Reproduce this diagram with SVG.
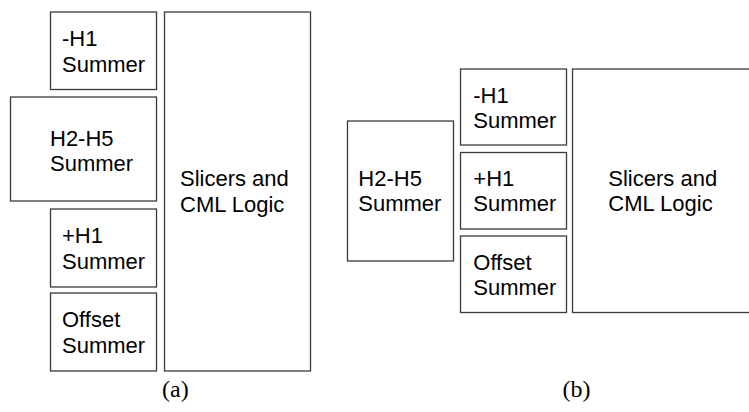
<svg xmlns="http://www.w3.org/2000/svg" width="749" height="412" viewBox="0 0 749 412">
<style>
rect{fill:#fff;stroke:#3a3a3a;stroke-width:1.3}
text{font-family:"Liberation Sans",Arial,sans-serif;font-size:22px;fill:#000}
.cap{font-family:"Liberation Serif","Times New Roman",serif;font-size:24px}
</style>
<rect x="0" y="0" width="749" height="412" style="stroke:none"/>
<g id="a-minusH1"><rect x="50.5" y="12" width="106" height="77.5"/><text x="62" y="45.7">-H1</text><text x="62" y="71.7">Summer</text></g>
<g id="a-H2H5"><rect x="10.5" y="97" width="146" height="104"/><text x="50" y="145.7">H2-H5</text><text x="50" y="170.7">Summer</text></g>
<g id="a-plusH1"><rect x="50.5" y="209" width="106" height="78"/><text x="62" y="242.7">+H1</text><text x="62" y="269">Summer</text></g>
<g id="a-offset"><rect x="50.5" y="293" width="106" height="78"/><text x="62" y="327">Offset</text><text x="62" y="352.7">Summer</text></g>
<g id="a-slicers"><rect x="164.5" y="12" width="146" height="359"/><text x="180" y="185.7">Slicers and</text><text x="180" y="212">CML Logic</text></g>
<g id="b-H2H5"><rect x="347.5" y="121" width="106" height="140"/><text x="358.3" y="186.3">H2-H5</text><text x="358.3" y="211.3">Summer</text></g>
<g id="b-minusH1"><rect x="460.5" y="69" width="106" height="76"/><text x="473.3" y="103">-H1</text><text x="473.3" y="127.7">Summer</text></g>
<g id="b-plusH1"><rect x="460.5" y="152.5" width="106" height="76.5"/><text x="473.3" y="186.3">+H1</text><text x="473.3" y="211.3">Summer</text></g>
<g id="b-offset"><rect x="460.5" y="236" width="106" height="76.5"/><text x="473.3" y="270">Offset</text><text x="473.3" y="295">Summer</text></g>
<g id="b-slicers"><rect x="572.5" y="69" width="180" height="243.5"/><text x="608.3" y="186.3">Slicers and</text><text x="608.3" y="211.3">CML Logic</text></g>
<g id="connectors"></g>
<text class="cap" x="162" y="397">(a)</text>
<text class="cap" x="562.5" y="397">(b)</text>
</svg>
